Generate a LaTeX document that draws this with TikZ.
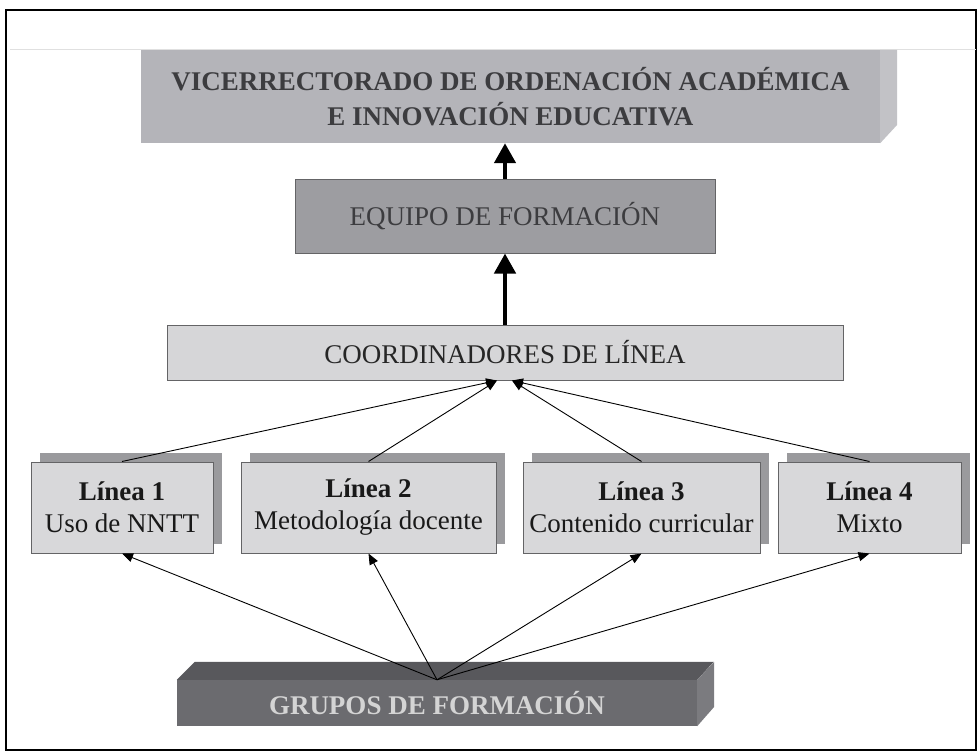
\documentclass[tikz,border=0pt]{standalone}
\usepackage{fontspec}
\setmainfont{Liberation Serif}
\usetikzlibrary{arrows.meta}

\definecolor{vicefront}{RGB}{180,180,185}
\definecolor{viceside}{RGB}{194,194,198}
\definecolor{equipofill}{RGB}{157,157,161}
\definecolor{coordfill}{RGB}{214,214,216}
\definecolor{lineafill}{RGB}{216,216,218}
\definecolor{lineashadow}{RGB}{154,154,157}
\definecolor{grupofront}{RGB}{107,107,111}
\definecolor{grupotop}{RGB}{88,88,92}
\definecolor{gruposide}{RGB}{123,123,127}
\definecolor{grupotext}{RGB}{212,212,212}
\definecolor{borde}{RGB}{100,100,102}
\definecolor{textogris}{RGB}{60,60,63}

\tikzset{
  caja/.style={draw=borde, line width=1pt, inner sep=0pt, align=center,
    font=\fontsize{27}{32}\selectfont},
  linea/.style={caja, fill=lineafill, minimum height=91pt, text=black!90},
  flechagruesa/.style={line width=4.5pt, -{Triangle[length=20pt,width=21pt]}},
  flechafina/.style={line width=0.9pt, -{Triangle[length=11pt,width=9pt]}}
}

\begin{document}
\begin{tikzpicture}[x=1pt,y=-1pt]
  \useasboundingbox (0,0) rectangle (980,752);
  \draw[line width=1.2pt] (6,10) rectangle (976,750);
  \draw[black!12,line width=0.8pt] (10,49) -- (976,49);

  % vicerrectorado
  \node[inner sep=0pt, fill=vicefront, minimum width=739pt, minimum height=93pt,
    align=center, text=textogris, font=\fontsize{27}{35}\selectfont\bfseries]
    (vice) at (510.5,96.5) {VICERRECTORADO DE ORDENACIÓN ACADÉMICA\\E INNOVACIÓN EDUCATIVA};
  \fill[viceside] (vice.north east) -- ++(17,0) -- ++(0,75) -- (vice.south east) -- cycle;

  % equipo y coordinadores
  \node[caja, fill=equipofill, minimum width=420pt, minimum height=74pt, text=textogris]
    (equipo) at (505,216) {EQUIPO DE FORMACIÓN};
  \node[caja, fill=coordfill, minimum width=676pt, minimum height=55pt, text=black!85]
    (coord) at (505,352.5) {COORDINADORES DE LÍNEA};

  % lineas, con su sombra
  \foreach \cx/\w/\n/\num/\txt in {122/182/l1/1/Uso de NNTT, 368.5/255/l2/2/Metodología docente,
      641.5/237/l3/3/Contenido curricular, 869.5/183/l4/4/Mixto} {
    \fill[lineashadow] (\cx-\w/2+9,453) rectangle (\cx+\w/2+9,544);
    \node[linea, minimum width=\w pt] (\n) at (\cx,507.5) {\textbf{Línea \num}\\\txt};
  }

  % grupos
  \node[inner sep=0pt, fill=grupofront, minimum width=520pt, minimum height=46pt,
    text=grupotext, font=\fontsize{27}{32}\selectfont\bfseries]
    (grupos) at (437,703) {GRUPOS DE FORMACIÓN};
  \fill[grupotop] (grupos.north west) -- ++(18,-18) -- ++(519,0) -- (grupos.north east) -- cycle;
  \fill[gruposide] (grupos.north east) -- ++(17,-18) -- ++(0,45) -- (grupos.south east) -- cycle;

  % flechas
  \coordinate (entradaizq) at ([xshift=-8pt]coord.south);
  \coordinate (entradader) at ([xshift=7pt]coord.south);
  \draw[flechagruesa] (coord.north) -- (equipo.south);
  \draw[flechagruesa] (equipo.north) -- (equipo.north |- vice.south);
  \draw[flechafina] (l1.north) -- (entradaizq);
  \draw[flechafina] (l2.north) -- (entradaizq);
  \draw[flechafina] (l3.north) -- (entradader);
  \draw[flechafina] (l4.north) -- (entradader);
  \foreach \n in {l1,l2,l3,l4}
    \draw[flechafina] (grupos.north) -- (\n.south);
\end{tikzpicture}
\end{document}
